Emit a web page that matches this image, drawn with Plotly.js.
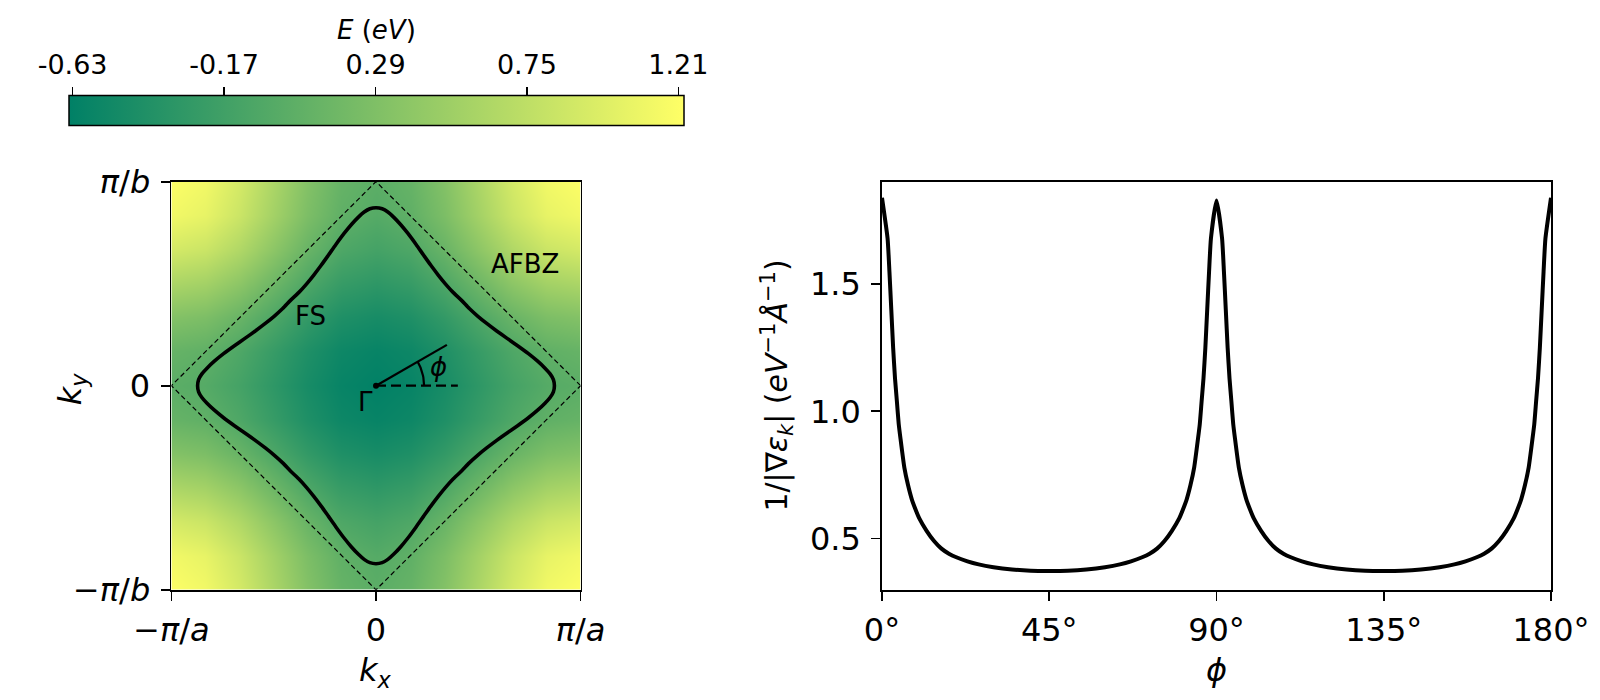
<!DOCTYPE html>
<html>
<head>
<meta charset="utf-8">
<script src="https://cdn.plot.ly/plotly-3.0.1.min.js"></script>
<style>html,body{margin:0;padding:0;background:#fff;} #chart{width:1600px;height:700px;}</style>
</head>
<body>
<div id="chart"></div>
<script>
// ---------- data ----------
// k grid (units of pi/a, pi/b)
const kGrid = [-1,-0.833,-0.667,-0.5,-0.333,-0.167,0,0.167,0.333,0.5,0.667,0.833,1];
// band energy E (eV)
const energy = [
 [1.210,1.131,0.915,0.619,0.324,0.107,0.028,0.107,0.324,0.619,0.915,1.131,1.210],
 [1.131,1.054,0.844,0.557,0.271,0.061,-0.016,0.061,0.271,0.557,0.844,1.054,1.131],
 [0.915,0.844,0.652,0.389,0.126,-0.066,-0.137,-0.066,0.126,0.389,0.652,0.844,0.915],
 [0.619,0.557,0.389,0.159,-0.071,-0.239,-0.301,-0.239,-0.071,0.159,0.389,0.557,0.619],
 [0.324,0.271,0.126,-0.071,-0.268,-0.413,-0.466,-0.413,-0.268,-0.071,0.126,0.271,0.324],
 [0.107,0.061,-0.066,-0.239,-0.413,-0.540,-0.586,-0.540,-0.413,-0.239,-0.066,0.061,0.107],
 [0.028,-0.016,-0.137,-0.301,-0.466,-0.586,-0.630,-0.586,-0.466,-0.301,-0.137,-0.016,0.028],
 [0.107,0.061,-0.066,-0.239,-0.413,-0.540,-0.586,-0.540,-0.413,-0.239,-0.066,0.061,0.107],
 [0.324,0.271,0.126,-0.071,-0.268,-0.413,-0.466,-0.413,-0.268,-0.071,0.126,0.271,0.324],
 [0.619,0.557,0.389,0.159,-0.071,-0.239,-0.301,-0.239,-0.071,0.159,0.389,0.557,0.619],
 [0.915,0.844,0.652,0.389,0.126,-0.066,-0.137,-0.066,0.126,0.389,0.652,0.844,0.915],
 [1.131,1.054,0.844,0.557,0.271,0.061,-0.016,0.061,0.271,0.557,0.844,1.054,1.131],
 [1.210,1.131,0.915,0.619,0.324,0.107,0.028,0.107,0.324,0.619,0.915,1.131,1.210]
];
const eMin = -0.641, eMax = 1.227;
const cbTicks = [-0.63,-0.17,0.29,0.75,1.21];
const cbTickText = ['-0.63','-0.17','0.29','0.75','1.21'];

// Fermi surface contour
const fsX = [0.872,0.867,0.851,0.826,0.790,0.745,0.692,0.639,0.590,0.541,0.498,0.456,0.418,0.378,0.340,0.305,0.268,0.233,0.196,0.157,0.120,0.086,0.058,0.030,0.000,
 -0.030,-0.058,-0.086,-0.120,-0.157,-0.196,-0.233,-0.268,-0.305,-0.340,-0.378,-0.418,-0.456,-0.498,-0.541,-0.590,-0.639,-0.692,-0.745,-0.790,-0.826,-0.851,-0.867,-0.872,
 -0.867,-0.851,-0.826,-0.790,-0.745,-0.692,-0.639,-0.590,-0.541,-0.498,-0.456,-0.418,-0.378,-0.340,-0.305,-0.268,-0.233,-0.196,-0.157,-0.120,-0.086,-0.058,-0.030,0.000,
 0.030,0.058,0.086,0.120,0.157,0.196,0.233,0.268,0.305,0.340,0.378,0.418,0.456,0.498,0.541,0.590,0.639,0.692,0.745,0.790,0.826,0.851,0.867,0.872];
const fsY = [0.000,0.030,0.058,0.086,0.120,0.157,0.196,0.233,0.268,0.305,0.340,0.378,0.418,0.456,0.498,0.541,0.590,0.639,0.692,0.745,0.790,0.826,0.851,0.867,0.872,
 0.867,0.851,0.826,0.790,0.745,0.692,0.639,0.590,0.541,0.498,0.456,0.418,0.378,0.340,0.305,0.268,0.233,0.196,0.157,0.120,0.086,0.058,0.030,0.000,
 -0.030,-0.058,-0.086,-0.120,-0.157,-0.196,-0.233,-0.268,-0.305,-0.340,-0.378,-0.418,-0.456,-0.498,-0.541,-0.590,-0.639,-0.692,-0.745,-0.790,-0.826,-0.851,-0.867,-0.872,
 -0.867,-0.851,-0.826,-0.790,-0.745,-0.692,-0.639,-0.590,-0.541,-0.498,-0.456,-0.418,-0.378,-0.340,-0.305,-0.268,-0.233,-0.196,-0.157,-0.120,-0.086,-0.058,-0.030,0.000];

// antiferromagnetic Brillouin zone boundary
const afbzX = [1,0,-1,0,1];
const afbzY = [0,1,0,-1,0];

// 1/|grad eps| vs phi
const phiDeg = [0,1.5,2,2.5,3,3.5,4,4.5,5,6,7,8,9,10,12,14,16,18,20,23,26,30,35,40,45,
 50,55,60,64,67,70,72,74,76,78,80,81,82,83,84,85,85.5,86,86.5,87,87.5,88,88.5,90,
 91.5,92,92.5,93,93.5,94,94.5,95,96,97,98,99,100,102,104,106,108,110,113,116,120,125,130,135,
 140,145,150,154,157,160,162,164,166,168,170,171,172,173,174,175,175.5,176,176.5,177,177.5,178,178.5,180];
const invGrad = [1.84,1.68,1.55,1.40,1.25,1.13,1.04,0.95,0.89,0.78,0.71,0.655,0.615,0.58,0.53,0.49,0.46,0.44,0.426,0.41,0.398,0.387,0.378,0.373,0.372,
 0.373,0.378,0.387,0.398,0.41,0.426,0.44,0.46,0.49,0.53,0.58,0.615,0.655,0.71,0.78,0.89,0.95,1.04,1.13,1.25,1.40,1.55,1.68,1.83,
 1.68,1.55,1.40,1.25,1.13,1.04,0.95,0.89,0.78,0.71,0.655,0.615,0.58,0.53,0.49,0.46,0.44,0.426,0.41,0.398,0.387,0.378,0.373,0.372,
 0.373,0.378,0.387,0.398,0.41,0.426,0.44,0.46,0.49,0.53,0.58,0.615,0.655,0.71,0.78,0.89,0.95,1.04,1.13,1.25,1.40,1.55,1.68,1.84];
const phiTicks = [0,45,90,135,180];
const phiTickText = ['0°','45°','90°','135°','180°'];
const gradTicks = [0.5,1.0,1.5];
const gradTickText = ['0.5','1.0','1.5'];

// ---------- phi indicator geometry ----------
const phiAngle = 30, phiLen = 0.4, arcR = 0.235;
const rad = phiAngle*Math.PI/180;
const arcX = [], arcY = [];
for (let a = 0; a <= phiAngle; a += 2) { arcX.push(arcR*Math.cos(a*Math.PI/180)); arcY.push(arcR*Math.sin(a*Math.PI/180)); }

const FONT = 'DejaVu Sans';
const W = 1600, H = 700;
const px = v => v/W, py = v => 1 - v/H;

const traces = [
 {type:'heatmap', x:kGrid, y:kGrid, z:energy, zsmooth:'best', zmin:eMin, zmax:eMax,
  colorscale:[[0,'rgb(0,128,102)'],[1,'rgb(255,255,102)']], hoverinfo:'skip',
  colorbar:{orientation:'h', x:px(69), xanchor:'left', y:py(126.7), yanchor:'bottom',
   len:615, lenmode:'pixels', thickness:30, thicknessmode:'pixels', outlinewidth:1.5, outlinecolor:'black',
   ticks:'', showticklabels:false, xpad:0, ypad:0, borderwidth:0}},
 {type:'scatter', mode:'lines', x:afbzX, y:afbzY, line:{color:'black', width:1.2, dash:'5px,3px'}, hoverinfo:'skip', showlegend:false},
 {type:'scatter', mode:'lines', x:fsX, y:fsY, line:{color:'black', width:3.6, shape:'spline', smoothing:0.6}, hoverinfo:'skip', showlegend:false},
 {type:'scatter', mode:'lines', x:[0, phiLen*Math.cos(rad)], y:[0, phiLen*Math.sin(rad)], line:{color:'black', width:2.2}, hoverinfo:'skip', showlegend:false},
 {type:'scatter', mode:'lines', x:[0, phiLen], y:[0,0], line:{color:'black', width:2.2, dash:'10px,5px'}, hoverinfo:'skip', showlegend:false},
 {type:'scatter', mode:'lines', x:arcX, y:arcY, line:{color:'black', width:2.2}, hoverinfo:'skip', showlegend:false},
 {type:'scatter', mode:'markers', x:[0], y:[0], marker:{color:'black', size:6}, hoverinfo:'skip', showlegend:false},
 {type:'scatter', mode:'lines', x:phiDeg, y:invGrad, xaxis:'x2', yaxis:'y2', line:{color:'black', width:4, shape:'spline', smoothing:0.5}, hoverinfo:'skip', showlegend:false},
 {type:'scatter', mode:'markers', x:[], y:[], xaxis:'x3', yaxis:'y3', hoverinfo:'skip', showlegend:false}
];

const axBase = {showgrid:false, zeroline:false, showline:true, mirror:true, linecolor:'black', linewidth:1.8,
 ticks:'outside', ticklen:9, tickwidth:1.8, tickcolor:'black', tickfont:{family:FONT, size:32, color:'black'}, fixedrange:true};

const ann = (x, y, text, size, extra) => Object.assign({xref:'paper', yref:'paper', x:x, y:y, text:text, showarrow:false,
  xanchor:'center', yanchor:'middle', font:{family:FONT, size:size, color:'black'}}, extra || {});

const layout = {
 width:W, height:H, margin:{l:0,r:0,t:0,b:0, autoexpand:false}, paper_bgcolor:'white', plot_bgcolor:'white',
 showlegend:false, font:{family:FONT, color:'black'},
 xaxis: Object.assign({}, axBase, {domain:[px(171.4), px(580.6)], range:[-1,1], tickvals:[-1,0,1],
   ticktext:['−<i>π</i>/<i>a</i>','0','<i>π</i>/<i>a</i>'], anchor:'y', ticklabelstandoff:2}),
 yaxis: Object.assign({}, axBase, {domain:[py(589.8), py(181.6)], range:[-1,1], tickvals:[-1,0,1],
   ticktext:['−<i>π</i>/<i>b</i>','0','<i>π</i>/<i>b</i>'], anchor:'x', ticklabelstandoff:4}),
 xaxis2: Object.assign({}, axBase, {domain:[px(882), px(1551)], range:[0,180], tickvals:phiTicks, ticktext:phiTickText, anchor:'y2', ticklabelstandoff:2}),
 yaxis2: Object.assign({}, axBase, {domain:[py(589.8), py(181.6)], range:[0.298,1.904], tickvals:gradTicks, ticktext:gradTickText, anchor:'x2', ticklabelstandoff:4}),
 xaxis3: {domain:[px(69), px(684)], range:[eMin,eMax], side:'top', anchor:'y3', showgrid:false, zeroline:false, showline:false,
   ticks:'outside', ticklen:9, tickwidth:1.5, tickcolor:'black', tickvals:cbTicks, ticktext:cbTickText,
   tickfont:{family:FONT, size:27, color:'black'}, fixedrange:true, ticklabelstandoff:2},
 yaxis3: {domain:[py(126.7), py(96.5)], range:[0,1], visible:false, anchor:'x3', fixedrange:true},
 annotations:[
  {xref:'x', yref:'y', x:-0.318, y:0.342, text:'FS', showarrow:false, xanchor:'center', yanchor:'middle', font:{family:FONT, size:26, color:'black'}},
  {xref:'x', yref:'y', x:0.726, y:0.594, text:'AFBZ', showarrow:false, xanchor:'center', yanchor:'middle', font:{family:FONT, size:26, color:'black'}},
  {xref:'x', yref:'y', x:-0.05, y:-0.08, text:'Γ', showarrow:false, xanchor:'center', yanchor:'middle', font:{family:FONT, size:26, color:'black'}},
  {xref:'x', yref:'y', x:0.305, y:0.093, text:'<i>ϕ</i>', showarrow:false, xanchor:'center', yanchor:'middle', font:{family:FONT, size:26, color:'black'}},
  ann(px(376.5), py(30), '<i>E</i> (<i>eV</i>)', 26),
  ann(px(375.5), py(672), '<i>k</i><sub><i>x</i></sub>', 32),
  ann(px(71.4), py(388.8), '<i>k</i><sub><i>y</i></sub>', 32, {textangle:-90}),
  ann(px(1216.3), py(670), '<i>ϕ</i>', 32),
  ann(px(777.6), py(386), '1/|∇<i>ε</i><sub><i>k</i></sub>| (<i>eV</i><sup>−1</sup><i>Å</i><sup>−1</sup>)', 30, {textangle:-90})
 ]
};

Plotly.newPlot('chart', traces, layout, {staticPlot:true, displayModeBar:false});
</script>
</body>
</html>
